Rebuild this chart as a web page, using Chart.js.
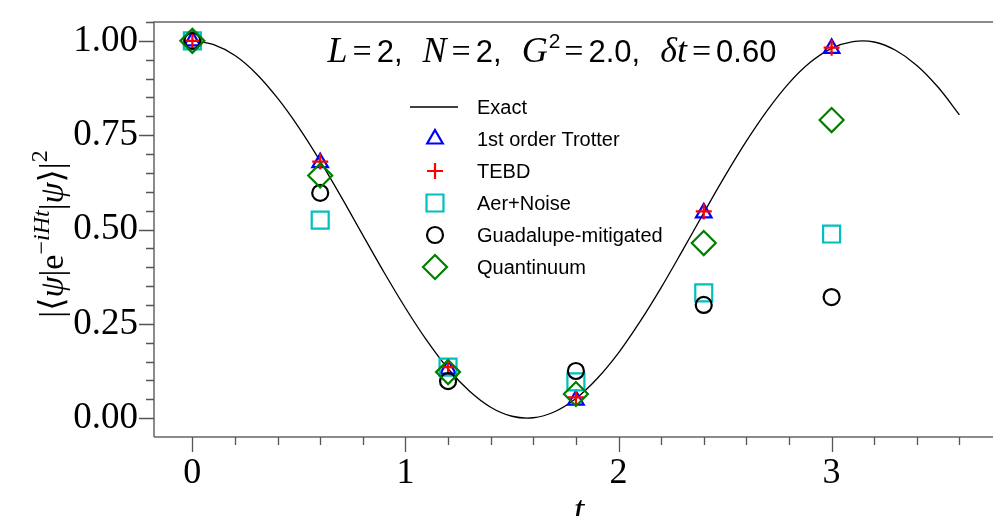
<!DOCTYPE html>
<html><head><meta charset="utf-8">
<script src="https://cdn.jsdelivr.net/npm/chart.js@4/dist/chart.umd.min.js"></script>
<style>
html,body{margin:0;padding:0;overflow:hidden;background:#fff;width:993px;height:516px}
#wrap{position:absolute;left:0;top:0;width:1012px;height:516px}
</style>
</head><body><div id="wrap"><canvas id="c" width="1012" height="516"></canvas></div>
<script>
// ---- data ----
const tSample    = [0, 0.6, 1.2, 1.8, 2.4, 3.0];
const trotter    = [1.000, 0.677, 0.130, 0.048, 0.544, 0.980];
const tebd       = [1.000, 0.680, 0.135, 0.055, 0.548, 0.982];
const aerNoise   = [1.000, 0.525, 0.135, 0.096, 0.332, 0.488];
const guadalupe  = [1.000, 0.597, 0.098, 0.125, 0.300, 0.321];
const quantinuum = [1.000, 0.643, 0.122, 0.064, 0.464, 0.790];

const tExact = [0.0,0.1,0.2,0.3,0.4,0.5,0.6,0.7,0.8,0.9,1.0,1.1,1.2,1.3,1.4,1.5,1.6,1.7,1.8,
                1.9,2.0,2.1,2.2,2.3,2.4,2.5,2.6,2.7,2.8,2.9,3.0,3.1,3.2,3.3,3.4,3.5,3.6];
const exact  = [1.000,0.990,0.961,0.913,0.848,0.770,0.681,0.585,0.485,0.386,0.292,0.206,0.131,0.072,0.029,0.005,0.001,0.017,0.052,
                0.105,0.173,0.255,0.346,0.444,0.544,0.642,0.734,0.817,0.888,0.943,0.980,0.998,0.997,0.975,0.935,0.877,0.804];

const xMajorTicks = [0, 1, 2, 3];
const yMajorTicks = [0, 0.25, 0.5, 0.75, 1.0];
const xMinorStep = 0.2;
const yMinorStep = 0.05;

const seriesNames = ['Exact', '1st order Trotter', 'TEBD', 'Aer+Noise', 'Guadalupe-mitigated', 'Quantinuum'];

const zip = (xs, ys) => xs.map((x, i) => ({x, y: ys[i]}));

const SERIF = '"Liberation Serif", "DejaVu Serif", serif';
const SANS = '"Liberation Sans", "DejaVu Sans", sans-serif';

const markerStyles = [
  null,
  {pointStyle: 'triangle', radius: 9,  color: '#0000ff'},
  {pointStyle: 'cross',    radius: 8,  color: '#ff0000'},
  {pointStyle: 'rect',     radius: 12, color: '#00bfbf'},
  {pointStyle: 'circle',   radius: 8,  color: '#000000'},
  {pointStyle: 'rectRot',  radius: 12, color: '#008000'}
];
const seriesValues = [null, trotter, tebd, aerNoise, guadalupe, quantinuum];

const datasets = [{
  type: 'line',
  label: seriesNames[0],
  data: zip(tExact, exact),
  borderColor: '#000',
  borderWidth: 1.3,
  pointRadius: 0,
  fill: false,
  tension: 0.35,
  order: 10
}];
for (let i = 1; i < 6; i++) {
  const m = markerStyles[i];
  datasets.push({
    type: 'scatter',
    label: seriesNames[i],
    data: zip(tSample, seriesValues[i]),
    pointStyle: m.pointStyle,
    pointRadius: m.radius,
    pointHoverRadius: m.radius,
    borderColor: m.color,
    backgroundColor: 'rgba(0,0,0,0)',
    pointBorderWidth: 2.2,
    borderWidth: 2.2,
    order: 10 - i
  });
}

function drawRich(ctx, pieces, x, y, align) {
  let total = 0;
  for (const p of pieces) { ctx.font = p.font; p.w = ctx.measureText(p.t).width + (p.sp || 0) + (p.pre || 0); total += p.w; }
  let cx = align === 'center' ? x - total / 2 : x;
  ctx.textAlign = 'left';
  ctx.textBaseline = 'alphabetic';
  for (const p of pieces) {
    ctx.font = p.font;
    ctx.fillText(p.t, cx + (p.pre || 0), y + (p.dy || 0));
    cx += p.w;
  }
  return total;
}

const decor = {
  id: 'decor',
  afterDraw(chart) {
    const ctx = chart.ctx;
    const xs = chart.scales.x, ys = chart.scales.y;
    const a = chart.chartArea;
    ctx.save();
    // spines
    ctx.strokeStyle = '#666';
    ctx.lineWidth = 1.5;
    ctx.beginPath();
    ctx.moveTo(a.left, a.bottom); ctx.lineTo(a.left, a.top); ctx.lineTo(a.right, a.top);
    ctx.moveTo(a.left, a.bottom); ctx.lineTo(a.right, a.bottom);
    ctx.stroke();
    // ticks
    ctx.strokeStyle = '#555';
    ctx.lineWidth = 1.3;
    ctx.beginPath();
    for (let k = 0; ; k++) {
      const v = -0.2 + k * xMinorStep;
      if (v > xs.max) break;
      if (v < xs.min) continue;
      const px = Math.round(xs.getPixelForValue(v)) + 0.5;
      const isMajor = xMajorTicks.some(t => Math.abs(t - v) < 1e-6);
      ctx.moveTo(px, a.bottom); ctx.lineTo(px, a.bottom + (isMajor ? 15 : 8));
    }
    for (let k = 0; ; k++) {
      const v = k * yMinorStep;
      if (v > ys.max) break;
      const py = Math.round(ys.getPixelForValue(v)) + 0.5;
      const isMajor = yMajorTicks.some(t => Math.abs(t - v) < 1e-6);
      ctx.moveTo(a.left, py); ctx.lineTo(a.left - (isMajor ? 15 : 8), py);
    }
    ctx.stroke();

    ctx.fillStyle = '#000';
    // title annotation
    const sI = 'italic 36px ' + SERIF, sR = '34px ' + SERIF, sa = '31px ' + SANS, sup = '21px ' + SANS;
    drawRich(ctx, [
      {t: 'L', font: sI, sp: 1}, {t: '=', font: sR, pre: 4, sp: 5}, {t: '2,', font: sa, sp: 20},
      {t: 'N', font: sI, sp: 1}, {t: '=', font: sR, pre: 4, sp: 5}, {t: '2,', font: sa, sp: 20},
      {t: 'G', font: sI, sp: 1}, {t: '2', font: sup, dy: -14}, {t: '=', font: sR, pre: 4, sp: 5}, {t: '2.0,', font: sa, sp: 20},
      {t: 'δt', font: sI, sp: 1}, {t: '=', font: sR, pre: 4, sp: 5}, {t: '0.60', font: sa}
    ], 552, 62, 'center');

    // x axis title
    ctx.font = 'italic 38px ' + SERIF;
    ctx.textAlign = 'center';
    ctx.textBaseline = 'alphabetic';
    ctx.fillText('t', 579, 522);

    // y axis title (rotated)
    ctx.save();
    ctx.translate(63, 234);
    ctx.rotate(-Math.PI / 2);
    const yR = '34px ' + SERIF, yI = 'italic 34px ' + SERIF, yS = '24px ' + SERIF, ySI = 'italic 24px ' + SERIF;
    drawRich(ctx, [
      {t: '|⟨', font: yR}, {t: 'ψ', font: yI}, {t: '|e', font: yR},
      {t: '−', font: yS, dy: -14}, {t: 'iHt', font: ySI, dy: -14},
      {t: '|', font: yR}, {t: 'ψ', font: yI}, {t: '⟩|', font: yR}, {t: '2', font: yS, dy: -16}
    ], 0, 0, 'center');
    ctx.restore();

    // legend
    const rowY = [107, 139, 171, 203, 235, 267];
    ctx.font = '20px ' + SANS;
    ctx.textAlign = 'left';
    ctx.textBaseline = 'middle';
    for (let i = 0; i < 6; i++) {
      const y = rowY[i];
      if (i === 0) {
        ctx.strokeStyle = '#000'; ctx.lineWidth = 1.3;
        ctx.beginPath(); ctx.moveTo(410, y); ctx.lineTo(458, y); ctx.stroke();
      } else {
        const m = markerStyles[i];
        ctx.strokeStyle = m.color; ctx.fillStyle = 'rgba(0,0,0,0)'; ctx.lineWidth = 2.2;
        Chart.helpers.drawPoint(ctx, {pointStyle: m.pointStyle, radius: m.radius, borderWidth: 2.2, rotation: 0}, 435, y);
      }
      ctx.fillStyle = '#000';
      ctx.fillText(seriesNames[i], 477, y + 1);
    }
    ctx.restore();
  }
};

new Chart(document.getElementById('c'), {
  type: 'scatter',
  data: {datasets},
  options: {
    responsive: false,
    animation: false,
    events: [],
    layout: {padding: {left: 0, top: 22, right: 5, bottom: 0}},
    plugins: {legend: {display: false}, tooltip: {enabled: false}},
    scales: {
      x: {
        type: 'linear', min: -0.18, max: 3.78,
        afterBuildTicks: s => { s.ticks = xMajorTicks.map(v => ({value: v})); },
        afterFit: s => { s.height = 79; s.paddingLeft = 0; s.paddingRight = 0; },
        grid: {display: false, drawTicks: false},
        border: {display: false},
        ticks: {autoSkip: false, maxRotation: 0, color: '#000', padding: 15,
                font: {family: SERIF, size: 36}, callback: v => String(v)}
      },
      y: {
        type: 'linear', min: -0.05, max: 1.05,
        afterBuildTicks: s => { s.ticks = yMajorTicks.map(v => ({value: v})); },
        afterFit: s => { s.width = 154; s.paddingTop = 0; s.paddingBottom = 0; },
        grid: {display: false, drawTicks: false},
        border: {display: false},
        ticks: {autoSkip: false, color: '#000', padding: 16,
                font: {family: SERIF, size: 37}, callback: v => Number(v).toFixed(2)}
      }
    }
  },
  plugins: [decor]
});
</script>
</body></html>
